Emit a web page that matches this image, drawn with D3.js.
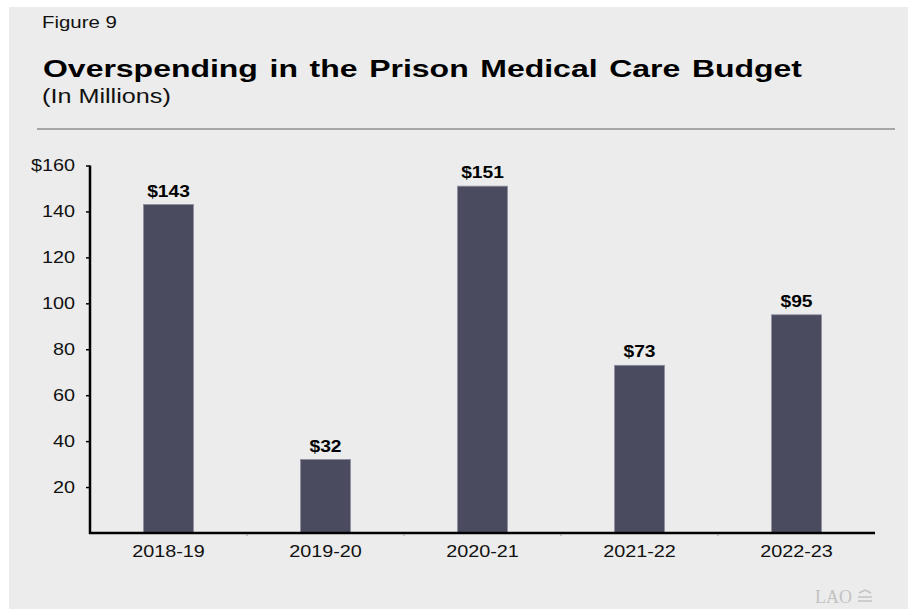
<!DOCTYPE html>
<html>
<head>
<meta charset="utf-8">
<script src="https://cdn.jsdelivr.net/npm/d3@7"></script>
<style>
  html, body { margin: 0; padding: 0; background: #ffffff; }
  svg { display: block; }
  text { font-family: "Liberation Sans", Arial, Helvetica, sans-serif; }
</style>
</head>
<body>
<svg id="chart" width="908" height="609"></svg>
<script>
// ---- data ----
const categories = ["2018-19", "2019-20", "2020-21", "2021-22", "2022-23"];
const values = [143, 32, 151, 73, 95];
const yTicks = [20, 40, 60, 80, 100, 120, 140, 160];
const figureLabel = "Figure 9";
const titleText = "Overspending in the Prison Medical Care Budget";
const subtitleText = "(In Millions)";

const svg = d3.select("#chart");
const W = 908, H = 609;
const STRETCH = 1.2;

// stretch text glyphs horizontally
function stretch(sel, factor) {
  sel.each(function () {
    const w = this.getComputedTextLength();
    d3.select(this).attr("textLength", w * factor).attr("lengthAdjust", "spacingAndGlyphs");
  });
}

// background panel
svg.append("rect").attr("x", 9).attr("y", 7).attr("width", W - 9).attr("height", H - 7)
  .attr("fill", "#ebeceb");

// header
svg.append("text").attr("x", 42).attr("y", 28).attr("font-size", 17).attr("fill", "#111")
  .text(figureLabel).call(stretch, STRETCH);

const title = svg.append("text").attr("x", 43).attr("y", 77).attr("font-size", 23)
  .attr("font-weight", "bold").attr("fill", "#000").attr("word-spacing", 2).text(titleText);
title.attr("textLength", 759).attr("lengthAdjust", "spacingAndGlyphs");

svg.append("text").attr("x", 42).attr("y", 103).attr("font-size", 21).attr("fill", "#111")
  .text(subtitleText).call(stretch, STRETCH);

svg.append("line").attr("x1", 37).attr("x2", 895).attr("y1", 129).attr("y2", 129)
  .attr("stroke", "#8f8f8f").attr("stroke-width", 1.5);

// scales
const x0 = 90, x1 = 875, yBase = 533, yTop = 165.5;
const x = d3.scaleBand().domain(categories).range([x0, x1])
  .paddingInner(0.6825).paddingOuter(0.34125);
const y = d3.scaleLinear().domain([0, 160]).range([yBase, yTop]);

// bars
svg.append("g").selectAll("rect").data(values).join("rect")
  .attr("x", (d, i) => x(categories[i]))
  .attr("y", d => y(d))
  .attr("width", x.bandwidth())
  .attr("height", d => y(0) - y(d))
  .attr("fill", "#4b4b5f")
  .attr("stroke", "#8c8c9e").attr("stroke-width", 0.8);

// value labels
svg.append("g").selectAll("text").data(values).join("text")
  .attr("x", (d, i) => x(categories[i]) + x.bandwidth() / 2)
  .attr("y", d => y(d) - 8)
  .attr("text-anchor", "middle").attr("font-size", 16).attr("font-weight", "bold")
  .attr("fill", "#000")
  .text(d => "$" + d)
  .call(stretch, STRETCH);

// y axis
const yAxis = svg.append("g").attr("transform", `translate(${x0},0)`)
  .call(d3.axisLeft(y).tickValues(yTicks).tickSize(4).tickSizeOuter(0).tickPadding(11)
    .tickFormat(d => d === 160 ? "$160" : d));
yAxis.select(".domain").attr("stroke", "#000").attr("stroke-width", 2.5);
yAxis.selectAll(".tick line").attr("stroke", "#000").attr("stroke-width", 1.5);
yAxis.selectAll(".tick text").attr("font-size", 16.5).attr("fill", "#111")
  .attr("font-family", "Liberation Sans, Arial, sans-serif").call(stretch, STRETCH);
yAxis.select(".domain").attr("d", `M0,${y(160)}V${yBase + 1}`);

// x axis
const xAxis = svg.append("g").attr("transform", `translate(0,${yBase})`)
  .call(d3.axisBottom(x).tickSize(0).tickSizeOuter(0).tickPadding(12));
xAxis.select(".domain").attr("stroke", "#000").attr("stroke-width", 2.5)
  .attr("d", `M${x0 - 1},0H${x1}`);
xAxis.selectAll(".tick text").attr("font-size", 16.5).attr("fill", "#111")
  .attr("font-family", "Liberation Sans, Arial, sans-serif").attr("dy", "0.71em").call(stretch, STRETCH);

// small separators between categories
svg.append("g").selectAll("line").data(categories.slice(1)).join("line")
  .attr("x1", d => x(d) - (x.step() - x.bandwidth()) / 2)
  .attr("x2", d => x(d) - (x.step() - x.bandwidth()) / 2)
  .attr("y1", yBase + 1).attr("y2", yBase + 3)
  .attr("stroke", "#999").attr("stroke-width", 1);

// LAO logo
const logo = svg.append("g").attr("fill", "#c2c2c2");
logo.append("text").attr("x", 815).attr("y", 603)
  .style("font-family", "'Liberation Serif', 'DejaVu Serif', serif")
  .attr("font-size", 18).text("LAO");
logo.append("path").attr("d", "M859,593 L865,590 L871,593 M858,597 L872,597 M858,601 L872,601")
  .attr("stroke", "#c2c2c2").attr("stroke-width", 1.5).attr("fill", "none");
</script>
</body>
</html>
